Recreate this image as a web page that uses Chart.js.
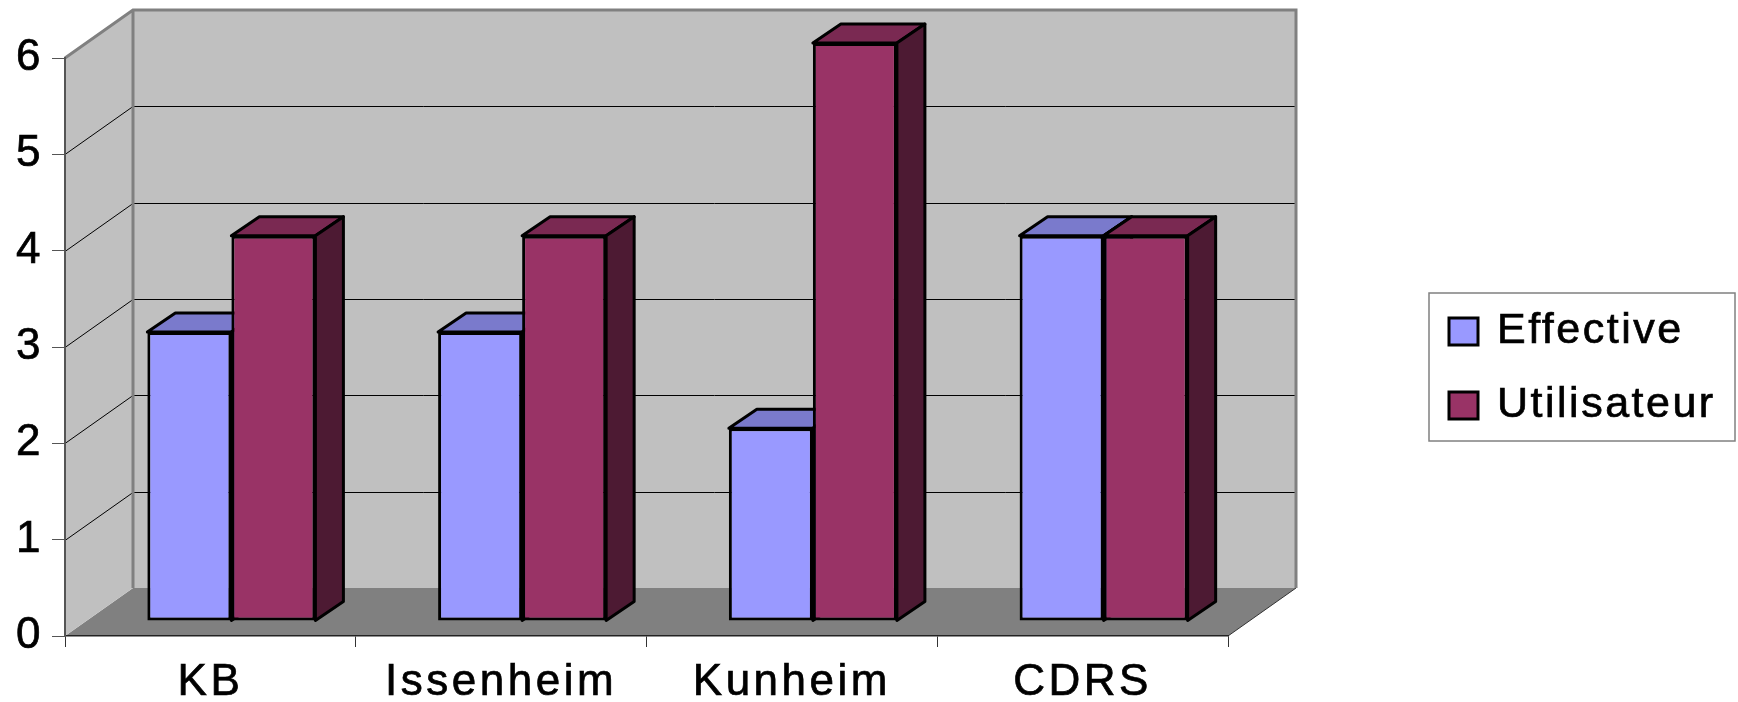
<!DOCTYPE html>
<html>
<head>
<meta charset="utf-8">
<script src="https://cdn.jsdelivr.net/npm/chart.js@4.4.0/dist/chart.umd.min.js"></script>
<style>
  html, body { margin: 0; padding: 0; background: #fff; }
  #wrap { width: 1738px; height: 702px; }
</style>
</head>
<body>
<div id="wrap"><canvas id="chart"></canvas></div>
<script>
const categories = ['KB', 'Issenheim', 'Kunheim', 'CDRS'];
const effective = [3, 3, 2, 4];
const utilisateur = [4, 4, 6, 4];
const yTicks = [0, 1, 2, 3, 4, 5, 6];

const FONT = '"Liberation Sans", Arial, sans-serif';
// depth of the box (back wall offset) and where the bars sit inside it
const wall = { dx: 68, dy: 48 };
const barShift = { dx: 21, dy: 15 };
const barDepth = { dx: 28, dy: 19 };

const faces = [
  { front: '#9999ff', top: '#7a7acc', side: '#4d4d80' },
  { front: '#993366', top: '#7a2952', side: '#4d1a33' }
];

function poly(ctx, pts) {
  ctx.beginPath();
  ctx.moveTo(pts[0][0], pts[0][1]);
  for (let i = 1; i < pts.length; i++) ctx.lineTo(pts[i][0], pts[i][1]);
  ctx.closePath();
}

const box3d = {
  id: 'box3d',
  beforeDraw(chart) {
    const { ctx, chartArea: a, scales: { y } } = chart;
    ctx.letterSpacing = '3.5px';
    const y0 = y.getPixelForValue(y.min);
    const yT = y.getPixelForValue(y.max);
    ctx.save();
    // floor
    poly(ctx, [[a.left, y0], [a.left + wall.dx, y0 - wall.dy], [a.right + wall.dx, y0 - wall.dy], [a.right, y0]]);
    ctx.fillStyle = '#808080';
    ctx.fill();
    ctx.beginPath();
    ctx.moveTo(a.right, y0);
    ctx.lineTo(a.right + wall.dx, y0 - wall.dy);
    ctx.strokeStyle = '#333';
    ctx.lineWidth = 1;
    ctx.stroke();
    // side + back walls
    ctx.fillStyle = '#c0c0c0';
    poly(ctx, [[a.left, y0], [a.left, yT], [a.left + wall.dx, yT - wall.dy], [a.left + wall.dx, y0 - wall.dy]]);
    ctx.fill();
    ctx.fillRect(a.left + wall.dx, yT - wall.dy, a.right - a.left, y0 - yT);
    // gridlines
    ctx.strokeStyle = '#000';
    ctx.lineWidth = 1;
    yTicks.forEach(v => {
      if (v <= y.min || v >= y.max) return;
      const yy = Math.round(y.getPixelForValue(v)) + 0.5;
      ctx.beginPath();
      ctx.moveTo(a.left, yy);
      ctx.lineTo(a.left + wall.dx, yy - wall.dy);
      ctx.lineTo(a.right + wall.dx, yy - wall.dy);
      ctx.stroke();
    });
    // wall edges
    ctx.strokeStyle = '#808080';
    ctx.lineWidth = 3;
    ctx.beginPath();
    ctx.moveTo(a.left, yT);
    ctx.lineTo(a.left + wall.dx, yT - wall.dy);
    ctx.lineTo(a.right + wall.dx, yT - wall.dy);
    ctx.lineTo(a.right + wall.dx, y0 - wall.dy);
    ctx.moveTo(a.left + wall.dx, yT - wall.dy);
    ctx.lineTo(a.left + wall.dx, y0 - wall.dy);
    ctx.stroke();
    ctx.restore();
  },
  beforeDatasetsDraw(chart) {
    const ctx = chart.ctx;
    ctx.save();
    ctx.translate(barShift.dx, -barShift.dy);
    ctx.lineWidth = 3;
    ctx.lineJoin = 'round';
    ctx.strokeStyle = '#000';
    categories.forEach((c, i) => {
      chart.data.datasets.forEach((ds, d) => {
        const bar = chart.getDatasetMeta(d).data[i];
        const p = bar.getProps(['x', 'y', 'base', 'width'], true);
        const l = p.x - p.width / 2, r = p.x + p.width / 2;
        poly(ctx, [[l, p.y], [l + barDepth.dx, p.y - barDepth.dy], [r + barDepth.dx, p.y - barDepth.dy], [r, p.y]]);
        ctx.fillStyle = faces[d].top;
        ctx.fill();
        ctx.stroke();
        poly(ctx, [[r, p.y], [r + barDepth.dx, p.y - barDepth.dy], [r + barDepth.dx, p.base - barDepth.dy], [r, p.base]]);
        ctx.fillStyle = faces[d].side;
        ctx.fill();
        ctx.stroke();
      });
    });
  },
  afterDatasetsDraw(chart) {
    chart.ctx.restore();
  },
  afterDraw(chart) {
    // legend box
    const ctx = chart.ctx;
    ctx.save();
    ctx.fillStyle = '#fff';
    ctx.fillRect(1429, 293, 306, 148);
    ctx.strokeStyle = '#808080';
    ctx.lineWidth = 1.5;
    ctx.strokeRect(1429, 293, 306, 148);
    ctx.font = '43px ' + FONT;
    ctx.letterSpacing = '2.5px';
    ctx.textBaseline = 'middle';
    ctx.textAlign = 'left';
    chart.data.datasets.forEach((ds, d) => {
      const cy = 331 + d * 74;
      ctx.fillStyle = ds.backgroundColor;
      ctx.fillRect(1449, cy - 13, 29, 27);
      ctx.strokeStyle = '#000';
      ctx.lineWidth = 3;
      ctx.strokeRect(1449, cy - 13, 29, 27);
      ctx.fillStyle = '#000';
      ctx.lineWidth = 0.7;
      ctx.fillText(ds.label, 1497, cy);
      ctx.strokeText(ds.label, 1497, cy);
    });
    ctx.restore();
  }
};

new Chart(document.getElementById('chart'), {
  type: 'bar',
  data: {
    labels: categories,
    datasets: [
      { label: 'Effective', data: effective, backgroundColor: faces[0].front, borderColor: '#000', borderWidth: 3, borderSkipped: false, clip: false },
      { label: 'Utilisateur', data: utilisateur, backgroundColor: faces[1].front, borderColor: '#000', borderWidth: 3, borderSkipped: false, clip: false }
    ]
  },
  options: {
    responsive: true,
    maintainAspectRatio: false,
    animation: false,
    layout: { padding: { top: 58, right: 510, left: 0, bottom: 0 } },
    datasets: { bar: { categoryPercentage: 0.578, barPercentage: 1 } },
    plugins: { legend: { display: false }, tooltip: { enabled: false } },
    scales: {
      x: {
        grid: { display: true, drawOnChartArea: false, drawTicks: true, tickLength: 11, color: '#333', offset: true },
        border: { display: true, color: '#222', width: 1.5 },
        ticks: { color: '#000', font: { family: FONT, size: 44 }, padding: 9, maxRotation: 0, autoSkip: false, textStrokeColor: '#000', textStrokeWidth: 0.7 },
        afterFit(s) { s.height = 66; }
      },
      y: {
        min: 0,
        max: 6,
        grid: { display: true, drawOnChartArea: false, drawTicks: true, tickLength: 13, color: '#555' },
        border: { display: true, color: '#555', width: 2 },
        ticks: { stepSize: 1, color: '#000', font: { family: FONT, size: 44 }, padding: 8, textStrokeColor: '#000', textStrokeWidth: 0.7 },
        afterFit(s) { s.width = 65; }
      }
    }
  },
  plugins: [box3d]
});
</script>
</body>
</html>
